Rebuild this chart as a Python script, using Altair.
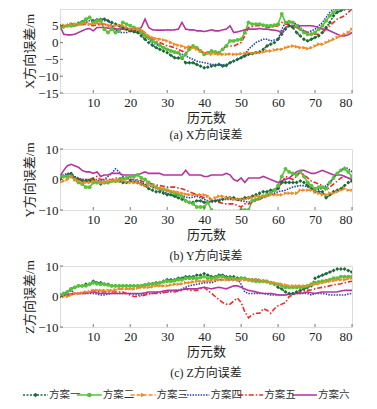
import altair as alt
import pandas as pd

EPOCHS = list(range(1, 81))
NAMES = ["方案一", "方案二", "方案三", "方案四", "方案五", "方案六"]
COLORS = ["#1d6b3a", "#58c23a", "#f08a24", "#2b3fb8", "#ee2a24", "#b5359f"]
DASHES = [[2, 1.5], [1, 0], [4, 2], [1.5, 1.2], [5, 2, 1.5, 2], [1, 0]]
SHAPES = ["diamond", "circle", "triangle-right"]

# ---- X direction error (m) ----
X1 = [5.0, 4.8, 5.2, 5.5, 5.3, 5.8, 6.2, 6.8, 7.5, 6.5,
      6.8, 6.9, 7.0, 6.5, 6.0, 5.5, 5.0, 4.5, 4.0, 3.5,
      3.2, 3.0, 2.0, 1.0, 0.0, -0.8, -1.5, -2.0, -2.5, -3.0,
      -3.8, -4.5, -4.6, -4.7, -6.0, -6.0, -6.0, -6.5, -7.0, -7.5,
      -7.3, -7.0, -6.8, -6.5, -7.0, -6.8, -6.0, -5.5, -5.0, -4.5,
      -4.0, -3.5, -3.3, -3.0, -2.8, -2.0, -1.0, -0.5, 0.0, 1.0,
      2.5, 4.0, 5.0, 4.5, 3.0, 2.0, 1.0, 0.5, 1.0, 1.5,
      2.0, 3.0, 4.5, 6.0, 8.0, 9.0, 9.5, 10.0, 10.2, 10.4]
X2 = [4.5, 4.8, 5.0, 5.0, 5.2, 5.5, 6.0, 7.0, 7.5, 6.0,
      6.5, 6.5, 4.0, 3.0, 4.0, 3.0, 3.5, 6.0, 5.5, 5.0,
      4.5, 4.0, 3.0, 2.0, 1.5, 0.5, 0.0, -0.8, -1.5, -2.0,
      -2.5, -2.8, -3.0, -4.5, -3.5, -2.0, -1.0, -1.5, -2.5, -3.5,
      -3.0, -2.5, -2.8, -3.0, -2.0, -1.0, 0.5, 0.5, 0.8, 1.0,
      3.0, 6.0, 5.5, 5.5, 5.5, 5.2, 5.0, 5.0, 5.2, 5.5,
      8.5, 6.0, 6.2, 6.0, 5.0, 4.0, 3.0, 2.5, 2.5, 3.0,
      4.0, 5.0, 6.5, 8.0, 9.0, 10.0, 10.2, 10.3, 10.4, 10.5]
X3 = [5.0, 5.2, 5.0, 5.5, 5.5, 5.3, 5.5, 5.8, 5.5, 5.5,
      5.8, 5.5, 5.5, 5.2, 5.0, 5.0, 5.2, 5.0, 4.5, 4.0,
      4.0, 4.0, 3.8, 3.0, 2.0, 1.5, 1.2, 1.0, 0.8, 0.5,
      0.0, -0.5, -0.8, -1.0, -1.5, -1.2, -1.5, -2.0, -2.5, -3.0,
      -3.2, -3.5, -3.3, -3.5, -3.5, -3.5, -3.4, -3.5, -3.5, -3.3,
      -3.2, -3.0, -3.2, -3.0, -3.0, -2.8, -2.5, -2.5, -2.2, -2.0,
      -2.0, -1.5, -1.2, -1.0, -1.2, -1.5, -1.5, -1.8, -1.5, -1.0,
      -0.5, -0.5, 0.0, 0.5, 1.0, 1.5, 2.0, 2.5, 3.0, 4.0]
X4 = [4.5, 4.8, 5.0, 5.0, 5.0, 5.5, 5.8, 6.0, 6.5, 6.0,
      6.0, 6.5, 6.5, 6.5, 5.0, 4.0, 3.0, 3.0, 3.0, 3.5,
      3.2, 3.0, 2.5, 2.0, 1.0, 0.0, -0.5, -1.0, -1.5, -2.0,
      -2.5, -3.0, -3.2, -3.5, -4.0, -4.5, -5.0, -5.5, -5.8, -6.0,
      -6.2, -6.5, -6.5, -6.5, -6.6, -6.5, -6.0, -5.5, -5.0, -4.5,
      -3.5, -2.0, -1.0, 0.0, 0.5, 1.0, 1.0, 0.5, 0.8, 1.0,
      4.0, 6.0, 6.0, 6.0, 5.5, 4.5, 3.5, 3.0, 3.5, 4.0,
      5.0, 6.0, 7.5, 9.0, 10.0, 10.3, 10.4, 10.5, 10.5, 10.5]
X5 = [4.5, 4.5, 4.8, 5.0, 5.0, 5.2, 5.3, 5.5, 5.2, 5.0,
      5.3, 5.5, 5.5, 5.0, 4.5, 4.0, 4.0, 4.0, 3.8, 3.5,
      3.5, 3.5, 3.5, 2.5, 1.8, 1.0, 0.5, 0.0, -0.5, -1.0,
      -1.2, -1.5, -2.0, -2.5, -3.0, -1.5, -1.0, -1.5, -2.5, -3.0,
      -3.0, -3.0, -3.0, -3.0, -2.0, -1.0, -1.0, -1.0, -0.5, 0.0,
      2.0, 4.5, 4.8, 5.0, 5.0, 4.8, 4.5, 4.5, 4.8, 5.0,
      6.0, 5.5, 5.5, 5.0, 4.5, 4.0, 3.5, 3.0, 2.8, 2.5,
      2.5, 3.0, 4.0, 5.0, 6.0, 7.0, 7.5, 8.0, 9.0, 10.0]
X6 = [5.0, 2.5, 2.3, 2.3, 2.5, 3.0, 3.5, 4.0, 4.2, 3.5,
      4.5, 4.5, 4.5, 4.3, 4.2, 4.0, 4.0, 4.0, 4.0, 4.0,
      4.0, 4.0, 4.5, 7.0, 4.5, 3.8, 3.7, 3.7, 3.7, 3.8,
      3.7, 3.8, 4.0, 6.0, 4.0, 3.8, 3.8, 3.5, 3.5, 3.3,
      3.5, 3.8, 3.5, 3.5, 3.8, 4.0, 5.0, 3.0, 3.2, 3.5,
      3.8, 4.0, 4.0, 4.0, 4.2, 4.0, 4.0, 3.8, 3.7, 3.5,
      3.0, 4.5, 5.0, 5.0, 5.2, 5.0, 5.0, 5.0, 5.0, 4.8,
      4.5, 4.0, 4.0, 3.5, 3.0, 2.5, 2.0, 2.0, 2.3, 3.0]

# ---- Y direction error (m) ----
Y1 = [0.0, 1.0, 1.5, 2.0, 0.5, 0.0, -0.5, -0.5, -0.5, 0.0,
      -1.0, -1.5, -1.0, -1.0, -0.5, -0.5, -0.5, -1.0, -1.0, -0.5,
      -0.8, -1.0, -1.5, -2.0, -3.0, -3.5, -4.0, -4.0, -4.5, -5.0,
      -5.0, -5.5, -6.0, -6.5, -7.0, -7.5, -7.5, -7.0, -7.0, -7.5,
      -7.5, -7.0, -7.0, -7.0, -6.5, -6.0, -6.0, -6.0, -6.5, -6.5,
      -6.0, -6.0, -5.5, -5.0, -4.5, -4.0, -4.0, -3.5, -3.5, -3.0,
      -1.0, -1.0, -1.0, -1.0, -1.0, -0.5, -1.0, -2.0, -3.0, -4.0,
      -4.0, -4.0, -6.0, -5.0, -4.0, -3.5, -3.0, -2.0, -1.0, -0.5]
Y2 = [1.0, 1.0, 1.0, 1.0, 0.0, -1.0, -1.5, -2.5, -2.5, -1.0,
      -1.0, -1.0, -1.0, -1.0, -0.5, -0.5, 0.0, 0.0, 0.5, 1.0,
      1.0, 1.5, 0.5, 0.0, -1.0, -2.0, -2.5, -3.0, -3.2, -3.5,
      -4.0, -4.5, -5.0, -5.5, -7.0, -7.5, -8.0, -9.0, -9.0, -9.0,
      -7.5, -10.0, -10.5, -10.5, -10.5, -10.5, -10.5, -10.5, -10.5, -10.0,
      -10.0, -10.0, -7.0, -6.5, -6.0, -5.5, -5.0, -4.5, -3.5, -2.0,
      1.0, 3.5, 2.5, 2.0, 1.5, 2.5, 1.0, -1.0, -2.0, -3.0,
      -2.5, -2.5, -3.0, -1.0, 0.5, 2.0, 3.0, 3.5, 2.5, 1.0]
Y3 = [-1.0, -0.5, 0.0, 1.0, 0.0, -0.5, -1.0, -1.0, -1.0, -0.5,
      -0.5, -1.0, -1.0, -0.5, -0.5, -0.5, -0.5, -0.5, -0.8, -1.0,
      -1.0, -1.0, -1.5, -2.0, -2.0, -2.0, -2.5, -3.0, -3.2, -3.5,
      -3.8, -4.0, -4.2, -4.5, -4.8, -5.0, -5.0, -5.0, -5.0, -5.0,
      -5.5, -6.5, -6.0, -5.5, -5.5, -6.0, -6.0, -6.5, -6.5, -6.5,
      -6.5, -6.0, -6.0, -5.5, -5.5, -5.5, -5.5, -5.0, -5.0, -5.0,
      -5.0, -4.5, -4.5, -4.5, -4.5, -3.5, -3.5, -3.5, -3.5, -4.0,
      -4.5, -5.0, -5.0, -4.5, -4.5, -4.0, -3.5, -3.0, -3.5, -3.5]
Y4 = [1.0, 1.5, 2.0, 2.0, 1.0, 0.5, 0.0, 0.0, 0.0, 0.0,
      0.0, -0.5, 0.0, 1.0, 2.0, 3.5, 2.5, 1.0, 0.5, 0.0,
      0.0, -0.5, -1.0, -1.5, -2.0, -2.5, -3.0, -3.5, -4.0, -4.5,
      -4.8, -5.0, -5.2, -5.5, -5.8, -6.0, -5.8, -5.5, -6.0, -6.5,
      -7.0, -7.5, -7.0, -6.5, -6.5, -6.5, -6.5, -6.5, -6.8, -7.0,
      -7.2, -7.5, -7.0, -6.5, -6.2, -6.0, -5.5, -5.0, -4.5, -4.0,
      -3.8, -3.5, -3.0, -2.5, -2.2, -2.0, -2.0, -2.5, -3.0, -3.5,
      -3.2, -3.0, -2.0, -1.0, 0.5, 2.0, 3.0, 4.0, 3.5, 2.5]
Y5 = [0.5, 1.0, 1.5, 1.5, 0.5, 0.0, 0.0, 0.0, 0.0, 0.5,
      1.0, 0.0, 0.0, 0.0, 0.0, 0.5, 0.5, 0.5, 0.3, 0.0,
      0.0, 0.0, -0.5, -1.0, -1.2, -1.5, -1.8, -2.0, -2.2, -2.5,
      -2.5, -2.5, -2.8, -3.0, -3.5, -4.0, -4.5, -5.0, -5.5, -6.0,
      -5.5, -7.0, -7.2, -7.5, -7.8, -8.0, -8.0, -8.0, -8.5, -9.0,
      -8.0, -8.0, -7.5, -7.0, -6.5, -6.0, -5.5, -4.5, -3.5, -3.0,
      -1.0, 1.0, 0.5, 0.0, 1.0, 2.5, 1.5, 0.5, -0.5, -1.0,
      -1.5, -2.0, -3.5, -2.5, -1.5, -0.5, 0.5, 1.0, 0.5, 0.0]
Y6 = [1.0, 3.0, 4.5, 5.0, 4.5, 4.0, 3.0, 2.5, 2.5, 2.0,
      2.5, 1.0, 1.5, 1.5, 2.0, 2.0, 2.0, 1.5, 1.5, 1.5,
      1.5, 1.5, 2.0, 2.5, 2.0, 2.0, 2.0, 2.0, 1.5, 1.5,
      1.5, 1.5, 1.5, 1.5, 3.0, 1.5, 1.5, 1.5, 1.5, 1.0,
      1.0, 1.5, 1.5, 1.5, 1.5, 2.0, 1.5, 0.0, -0.5, 0.5,
      -1.0, 0.5, 0.5, 0.5, 0.5, 1.0, 0.5, 0.0, -0.5, -1.0,
      -0.5, 0.0, 0.5, 1.5, 2.5, 3.0, 3.0, 2.5, 2.0, 2.0,
      2.5, 3.0, 2.5, 2.0, 1.5, 1.5, 1.5, 1.0, 0.5, 0.0]

# ---- Z direction error (m) ----
Z1 = [0.0, 0.5, 1.5, 2.5, 3.0, 3.5, 3.5, 4.0, 4.0, 5.0,
      4.5, 4.5, 4.0, 4.0, 3.5, 3.5, 3.5, 3.5, 3.5, 3.5,
      3.5, 3.5, 3.5, 3.8, 4.0, 4.2, 4.5, 4.5, 5.0, 5.5,
      5.5, 5.5, 6.0, 6.0, 6.5, 6.5, 6.5, 7.0, 7.0, 7.5,
      7.0, 6.5, 6.5, 7.0, 7.0, 6.5, 6.5, 6.5, 6.0, 6.0,
      6.0, 5.5, 5.5, 5.5, 5.0, 5.0, 5.0, 4.5, 4.0, 3.0,
      2.5, 1.5, 1.0, 1.0, 1.5, 2.0, 2.5, 3.0, 3.5, 6.0,
      6.5, 7.0, 7.5, 8.0, 8.5, 9.0, 9.0, 9.0, 8.5, 8.0]
Z2 = [0.5, 1.0, 1.5, 2.5, 3.0, 3.5, 3.5, 3.5, 4.0, 4.5,
      4.2, 4.0, 4.0, 3.8, 3.5, 3.5, 3.5, 3.5, 3.5, 3.5,
      3.5, 3.5, 3.5, 3.8, 4.0, 4.0, 4.2, 4.5, 4.8, 5.0,
      5.0, 5.2, 5.5, 5.5, 6.0, 6.0, 6.0, 6.0, 6.2, 6.5,
      6.0, 6.0, 6.2, 6.5, 6.5, 6.0, 6.0, 5.8, 5.5, 6.0,
      5.8, 5.5, 5.2, 5.0, 5.0, 5.0, 4.8, 4.5, 4.2, 4.0,
      3.5, 3.0, 3.0, 3.0, 3.0, 3.0, 3.2, 3.5, 4.0, 4.5,
      4.8, 5.0, 5.2, 5.5, 6.0, 6.0, 6.5, 6.5, 6.5, 6.5]
Z3 = [0.0, 0.0, 0.0, 0.5, 1.0, 1.0, 1.2, 1.5, 1.5, 2.0,
      2.0, 2.0, 2.0, 2.0, 2.0, 2.2, 2.5, 2.5, 2.5, 2.5,
      2.5, 2.8, 3.0, 3.0, 3.0, 3.2, 3.5, 3.5, 3.5, 3.5,
      3.8, 4.0, 4.0, 4.2, 4.5, 4.5, 4.8, 5.0, 5.0, 5.0,
      5.0, 5.2, 5.5, 5.5, 5.5, 5.5, 5.5, 5.5, 5.5, 5.5,
      5.5, 5.5, 5.5, 5.5, 5.5, 5.0, 5.0, 4.5, 4.5, 4.0,
      4.0, 3.8, 3.5, 3.5, 3.5, 3.5, 3.5, 3.5, 3.8, 4.0,
      4.2, 4.5, 4.8, 5.0, 5.2, 5.5, 5.5, 5.5, 5.8, 6.0]
Z4 = [0.5, 1.0, 1.0, 2.0, 1.0, 1.0, 1.0, 1.0, 1.0, 1.0,
      0.8, 0.5, 0.5, 0.8, 1.0, 1.0, 1.0, 1.0, 1.0, 1.0,
      0.8, 0.5, 0.5, 0.8, 1.0, 1.0, 1.2, 1.5, 1.5, 1.5,
      1.8, 2.0, 2.0, 2.5, 3.0, 3.5, 3.8, 4.0, 4.2, 4.5,
      4.5, 4.5, 5.0, 5.5, 5.5, 5.5, 5.5, 5.5, 6.0, 4.0,
      1.5, 1.0, 1.0, 1.0, 1.0, 1.0, 0.8, 0.5, 0.5, 0.5,
      0.5, 0.5, 0.8, 1.0, 1.0, 1.0, 1.0, 1.0, 0.5, 1.0,
      1.0, 1.0, 0.8, 0.5, 0.5, 0.5, 0.5, 0.5, 0.8, 1.0]
Z5 = [0.5, 0.5, 0.5, 0.8, 1.0, 1.0, 1.2, 1.5, 1.8, 2.0,
      1.8, 1.5, 1.5, 1.5, 1.5, 1.5, 1.5, 1.5, 1.0, 0.5,
      0.0, 0.0, 0.2, 0.5, 0.8, 1.0, 1.0, 1.0, 1.2, 1.5,
      1.5, 1.5, 1.8, 2.0, 2.5, 2.0, 2.0, 2.0, 2.5, 3.0,
      2.0, 1.0, 0.0, -1.0, -2.0, -2.5, -2.5, -1.5, -0.5, -2.0,
      -5.0, -7.0, -6.0, -5.5, -5.5, -4.0, -4.5, -5.5, -4.0, -3.0,
      -2.5, -2.0, 0.0, 0.5, 1.0, 1.5, 1.8, 2.0, 2.2, 2.5,
      2.8, 3.0, 3.2, 3.5, 3.8, 4.0, 4.2, 4.5, 4.8, 5.0]
Z6 = [0.5, 0.5, 0.5, 0.8, 1.0, 1.0, 1.0, 1.0, 1.2, 1.5,
      1.2, 1.0, 1.0, 1.0, 1.0, 1.0, 1.0, 1.0, 1.0, 1.0,
      1.0, 1.0, 1.0, 1.2, 1.5, 1.5, 1.5, 1.5, 1.8, 2.0,
      2.0, 2.0, 2.0, 2.2, 2.5, 2.5, 2.5, 2.5, 2.8, 3.0,
      2.8, 2.5, 2.8, 3.0, 2.8, 2.5, 3.0, 3.5, 3.5, 3.0,
      2.5, 2.0, 1.8, 1.5, 1.2, 1.0, 1.0, 1.0, 0.8, 0.5,
      0.5, 0.5, 0.8, 1.0, 1.0, 1.0, 1.2, 1.5, 1.2, 1.0,
      1.2, 1.5, 1.5, 1.5, 1.5, 1.5, 1.8, 2.0, 2.0, 2.0]

X_TICKS = [10, 20, 30, 40, 50, 60, 70, 80]
FONT = "'Liberation Serif', 'Noto Sans CJK SC', serif"
FRAME = "#555555"


def long_df(series_lists):
    rows = []
    for name, vals in zip(NAMES, series_lists):
        for e, v in zip(EPOCHS, vals):
            rows.append({"epoch": e, "value": v, "series": name})
    return pd.DataFrame(rows)


color_enc = alt.Color("series:N", scale=alt.Scale(domain=NAMES, range=COLORS), legend=None)
dash_enc = alt.StrokeDash("series:N", scale=alt.Scale(domain=NAMES, range=DASHES), legend=None)


def panel(series_lists, domain, yticks, ytitle, caption, height, cap_offset):
    df = long_df(series_lists)
    xs = alt.Scale(domain=[1, 80], nice=False, zero=False)
    ys = alt.Scale(domain=domain, nice=False, zero=False)
    xa = alt.Axis(values=X_TICKS, title="历元数", ticks=False, grid=False, domain=False,
                  labelPadding=3, titlePadding=2, labelFont=FONT, titleFont=FONT,
                  labelFontSize=13, titleFontSize=13, titleFontWeight="normal",
                  labelColor="#222", titleColor="#222")
    ya = alt.Axis(values=yticks, title=ytitle, ticks=False, grid=False, domain=False,
                  labelPadding=2, titlePadding=1, labelFont=FONT, titleFont=FONT,
                  labelFontSize=13, titleFontSize=13, titleFontWeight="normal",
                  labelColor="#222", titleColor="#222")
    X = alt.X("epoch:Q", scale=xs, axis=xa)
    Y = alt.Y("value:Q", scale=ys, axis=ya)

    lines = alt.Chart(df).mark_line(strokeWidth=1.6, clip=True).encode(
        x=X, y=Y, color=color_enc, strokeDash=dash_enc, detail="series:N")
    pts = alt.Chart(df).transform_filter(
        alt.FieldOneOfPredicate(field="series", oneOf=NAMES[:3])
    ).mark_point(filled=True, size=15, opacity=1, clip=True).encode(
        x=X, y=Y, color=color_enc,
        shape=alt.Shape("series:N", scale=alt.Scale(domain=NAMES[:3], range=SHAPES), legend=None))
    xt = alt.Chart(pd.DataFrame({"epoch": X_TICKS})).mark_rule(color=FRAME, strokeWidth=0.8).encode(
        x=X, y=alt.value(height), y2=alt.value(height - 3))
    yt = alt.Chart(pd.DataFrame({"value": yticks})).mark_rule(color=FRAME, strokeWidth=0.8).encode(
        y=Y, x=alt.value(0), x2=alt.value(3))
    return alt.layer(lines, pts, xt, yt).properties(
        width=292, height=height,
        title=alt.TitleParams(caption, orient="bottom", font=FONT, fontSize=12,
                              fontWeight="normal", color="#222", offset=cap_offset),
    )


pa = panel([X1, X2, X3, X4, X5, X6], [-15, 10], [-15, -10, -5, 0, 5], "X方向误差/m", "(a) X方向误差", 84, 6)
pb = panel([Y1, Y2, Y3, Y4, Y5, Y6], [-10, 10], [-10, 0, 10], "Y方向误差/m", "(b) Y方向误差", 61, 10)
pc = panel([Z1, Z2, Z3, Z4, Z5, Z6], [-10, 10], [-10, 0, 10], "Z方向误差/m", "(c) Z方向误差", 61, 10)

# ---- legend row ----
leg = pd.DataFrame({"series": NAMES, "idx": list(range(len(NAMES)))})
lbase = alt.Chart(leg).transform_calculate(
    t="datum.idx * 53.8 - 11",
    x0="datum.idx * 53.8 - 37",
    x1="datum.idx * 53.8 - 12",
    xm="datum.idx * 53.8 - 24.5",
)
LY = 12
lrule = lbase.mark_rule(strokeWidth=1.5).encode(
    x=alt.X("x0:Q", scale=None, axis=None), x2="x1:Q", y=alt.value(LY),
    color=color_enc, strokeDash=dash_enc)
lpt = lbase.transform_filter("datum.idx < 3").mark_point(filled=True, size=22, opacity=1).encode(
    x=alt.X("xm:Q", scale=None, axis=None), y=alt.value(LY), color=color_enc,
    shape=alt.Shape("series:N", scale=alt.Scale(domain=NAMES[:3], range=SHAPES), legend=None))
ltext = lbase.mark_text(align="left", baseline="middle", font=FONT, fontSize=10.5, color="#333").encode(
    x=alt.X("t:Q", scale=None, axis=None), y=alt.value(LY), text="series:N")
legend_panel = alt.layer(lrule, lpt, ltext).properties(
    width=292, height=20, view=alt.ViewBackground(stroke="transparent"))

chart = alt.vconcat(pa, pb, pc, legend_panel, spacing=56, bounds="flush").resolve_scale(
    color="shared", strokeDash="shared"
).properties(
    padding={"left": 13, "top": 0, "right": 5, "bottom": 2}
).configure_view(stroke=FRAME, strokeWidth=1).configure(background="white")

chart.save("out.html", embed_options={"renderer": "svg", "actions": False})
